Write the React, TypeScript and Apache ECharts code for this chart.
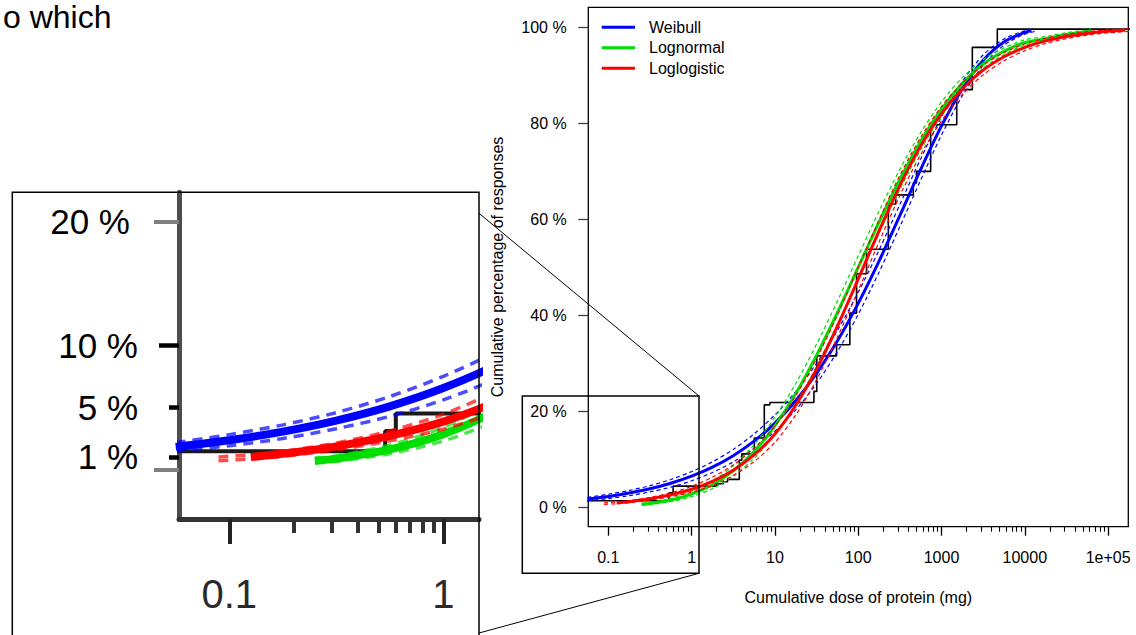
import React, { useEffect, useRef } from "react";
import * as echarts from "echarts";

// ---------- data (dose in mg, cumulative % of responses) ----------
const xTickDoses = [0.1, 1, 10, 100, 1000, 10000, 100000];
const xTickLabels = ["0.1", "1", "10", "100", "1000", "10000", "1e+05"];
const yTickValues = [0, 20, 40, 60, 80, 100];
const insetXTickDoses = [0.1, 1];
const insetXTickLabels = ["0.1", "1"];
const insetYLabelValues = [1, 5, 10];
const insetYTopLabel = [20];
const legendNames = ["Weibull", "Lognormal", "Loglogistic"];

const ecdf = [
  [0.03, 1.45], [0.535, 3.1], [0.6, 4.5], [2.0, 5.0], [2.4, 5.4], [2.7, 5.9],
  [3.74, 9.9], [4.0, 11.2], [5.66, 14.5], [7.46, 21.4], [8.7, 21.9], [29.4, 24.2],
  [31.8, 31.6], [55, 33.9], [79.4, 40.5], [95.6, 48.7], [126, 53.8], [230, 63.2],
  [282, 65.1], [458, 67.6], [501, 70.0], [741, 79.7], [1524, 87.0], [2345, 95.8],
  [4677, 99.6], [250000, 99.6],
];

const weibull = [
  [0.0562, 1.81], [0.1, 2.35], [0.178, 3.04], [0.316, 3.93], [0.562, 5.08], [1, 6.56],
  [1.78, 8.44], [3.16, 10.83], [5.62, 13.85], [10, 17.61], [17.8, 22.27], [31.6, 27.94],
  [56.2, 34.68], [100, 42.52], [178, 51.32], [316, 60.78], [562, 70.39], [1000, 79.45],
  [1780, 87.22], [3160, 93.11], [5620, 96.91], [10000, 98.91], [12000, 99.27],
];
const weibullUpper = [
  [0.0562, 2.16], [0.1, 2.8], [0.178, 3.59], [0.316, 4.58], [0.562, 5.88], [1, 7.51],
  [1.78, 9.54], [3.16, 12.13], [5.62, 15.35], [10, 19.31], [17.8, 24.17], [31.6, 30.04],
  [56.2, 36.88], [100, 44.82], [178, 53.62], [316, 63.08], [562, 72.59], [1000, 81.35],
  [1780, 88.72], [3160, 94.21], [5620, 97.56], [10000, 99.26], [12000, 99.5],
];
const weibullLower = [
  [0.0562, 1.46], [0.1, 1.9], [0.178, 2.49], [0.316, 3.28], [0.562, 4.28], [1, 5.61],
  [1.78, 7.34], [3.16, 9.53], [5.62, 12.35], [10, 15.91], [17.8, 20.37], [31.6, 25.84],
  [56.2, 32.48], [100, 40.22], [178, 49.02], [316, 58.48], [562, 68.19], [1000, 77.55],
  [1780, 85.72], [3160, 92.01], [5620, 96.26], [10000, 98.56], [14000, 99.2],
];

const lognormal = [
  [0.251, 0.7], [0.316, 0.86], [0.562, 1.61], [1, 2.84], [1.78, 4.78], [3.16, 7.66],
  [5.62, 11.69], [10, 17.05], [17.8, 23.75], [31.6, 31.7], [56.2, 40.59], [100, 50.0],
  [178, 59.41], [316, 68.3], [562, 76.25], [1000, 82.95], [1780, 88.31], [3160, 92.34],
  [5620, 95.0], [10000, 96.8], [17800, 97.6], [31600, 98.5], [56200, 99.1], [63100, 99.2],
];
const lognormalUpper = [
  [0.251, 0.9], [0.316, 1.08], [0.562, 1.96], [1, 3.39], [1.78, 5.58], [3.16, 8.71],
  [5.62, 13.09], [10, 18.85], [17.8, 25.85], [31.6, 34.0], [56.2, 42.99], [100, 52.4],
  [178, 61.71], [316, 70.4], [562, 78.05], [1000, 84.45], [1780, 89.51], [3160, 93.24],
  [5620, 95.7], [10000, 97.35], [17800, 98.05], [31600, 98.85], [56200, 99.35], [63100, 99.42],
];
const lognormalLower = [
  [0.251, 0.5], [0.316, 0.64], [0.562, 1.26], [1, 2.29], [1.78, 3.98], [3.16, 6.61],
  [5.62, 10.29], [10, 15.25], [17.8, 21.65], [31.6, 29.4], [56.2, 38.19], [100, 47.6],
  [178, 57.11], [316, 66.2], [562, 74.45], [1000, 81.45], [1780, 87.11], [3160, 91.44],
  [5620, 94.3], [10000, 96.25], [17800, 97.15], [31600, 98.15], [56200, 98.85], [63100, 98.98],
];

const loglogistic = [
  [0.126, 1.0], [0.178, 1.25], [0.316, 1.85], [0.562, 2.7], [1, 3.85], [1.78, 5.5],
  [3.16, 7.8], [5.62, 11.0], [10, 15.31], [17.8, 21.31], [31.6, 28.83], [56.2, 37.75],
  [100, 47.58], [178, 57.6], [316, 67.04], [562, 75.27], [1000, 82.0], [1780, 87.2],
  [3160, 91.07], [5620, 93.85], [10000, 95.8], [17800, 97.16], [31600, 98.08],
  [56200, 98.71], [100000, 99.14], [160000, 99.37],
];
const loglogisticUpper = [
  [0.089, 1.0], [0.126, 1.17], [0.178, 1.45], [0.316, 2.13], [0.562, 3.1], [1, 4.45],
  [1.78, 6.35], [3.16, 8.9], [5.62, 12.4], [10, 17.01], [17.8, 23.31], [31.6, 31.03],
  [56.2, 40.05], [100, 49.98], [178, 59.9], [316, 69.14], [562, 77.07], [1000, 83.5],
  [1780, 88.4], [3160, 92.07], [5620, 94.7], [10000, 96.5], [17800, 97.71], [31600, 98.53],
  [56200, 99.06], [100000, 99.44], [178000, 99.6],
];
const loglogisticLower = [
  [0.089, 0.7], [0.126, 0.83], [0.178, 1.05], [0.316, 1.57], [0.562, 2.3], [1, 3.25],
  [1.78, 4.65], [3.16, 6.7], [5.62, 9.6], [10, 13.61], [17.8, 19.31], [31.6, 26.63],
  [56.2, 35.45], [100, 45.18], [178, 55.3], [316, 64.94], [562, 73.47], [1000, 80.5],
  [1780, 86.0], [3160, 90.07], [5620, 93.0], [10000, 95.1], [17800, 96.61], [31600, 97.63],
  [56200, 98.36], [100000, 98.84], [178000, 99.1],
];

// ---------- layout / style ----------
const FONT = "'Liberation Sans', Arial, Helvetica, sans-serif";
const BLUE = "#0000FF";
const GREEN = "#00DD00";
const RED = "#FF0000";

const lg = (d: number) => Math.log10(d);
const toXY = (pairs: number[][]) => pairs.map(([d, p]) => [lg(d), p]);

// main plot axis extents (log10 dose, %)
const X_MIN = -1.24;
const X_MAX = 5.2425;
const Y_MIN = -3.954;
const Y_MAX = 104.14;
// inset axis extents
const IX_MIN = -1.235;
const IX_MAX = 0.1668;
const IY_MIN = -4.0145;
const IY_MAX = 22.375;

const majorL = xTickDoses.map(lg);
const insetMajorL = insetXTickDoses.map(lg);
// minor log ticks (2..9 in each decade) only between the first and last labelled decade
function minorTicks(lo: number, hi: number) {
  const out: number[] = [];
  const first = majorL[0];
  const last = majorL[majorL.length - 1];
  for (let e = Math.round(first); e < Math.round(last); e++) {
    for (let k = 2; k <= 9; k++) {
      const v = e + Math.log10(k);
      if (v > lo && v < hi) out.push(v);
    }
  }
  return out;
}
const fmtFrom = (vals: number[], labels: string[]) => (v: number) => {
  const i = vals.findIndex((m) => Math.abs(m - v) < 1e-6);
  return i >= 0 ? labels[i] : "";
};

function line(
  name: string,
  pairs: number[][],
  color: string,
  width: number,
  dashed: number[] | null,
  xi: number,
  yi: number,
  opacity = 1,
  step = false
): any {
  return {
    type: "line",
    name,
    xAxisIndex: xi,
    yAxisIndex: yi,
    data: toXY(pairs),
    symbol: "none",
    showSymbol: false,
    smooth: step ? false : 0.3,
    step: step ? "end" : false,
    clip: true,
    silent: true,
    lineStyle: {
      color,
      width,
      type: dashed ? dashed : "solid",
      opacity,
      cap: "butt",
    },
    itemStyle: { color },
    emphasis: { disabled: true },
  };
}

function buildSeries(xi: number, yi: number, big: boolean, suffix: string) {
  const dash = big ? [10, 7] : [4, 3];
  const dw = big ? 3.5 : 1.2;
  const sw = big ? 8 : 3;
  const dop = big ? 0.7 : 1;
  return [
    line("ECDF" + suffix, ecdf, big ? "#1a1a1a" : "#000", big ? 4 : 1.6, null, xi, yi, 1, true),
    line("Weibull lo" + suffix, weibullLower, BLUE, dw, dash, xi, yi, dop),
    line("Weibull hi" + suffix, weibullUpper, BLUE, dw, dash, xi, yi, dop),
    line(legendNames[0] + suffix, weibull, BLUE, sw, null, xi, yi),
    line("Lognormal lo" + suffix, lognormalLower, GREEN, dw, dash, xi, yi, dop),
    line("Lognormal hi" + suffix, lognormalUpper, GREEN, dw, dash, xi, yi, dop),
    line(legendNames[1] + suffix, lognormal, GREEN, sw, null, xi, yi),
    line("Loglogistic lo" + suffix, loglogisticLower, RED, dw, dash, xi, yi, dop),
    line("Loglogistic hi" + suffix, loglogisticUpper, RED, dw, dash, xi, yi, dop),
    line(legendNames[2] + suffix, loglogistic, RED, sw, null, xi, yi),
  ];
}

const hiddenAxisParts = {
  splitLine: { show: false },
  minorTick: { show: false },
  minorSplitLine: { show: false },
};

export default function App() {
  const ref = useRef<HTMLDivElement>(null);
  useEffect(() => {
    if (!ref.current) return;
    const chart = echarts.init(ref.current, undefined, { renderer: "svg" });
    const option: any = {
      animation: false,
      backgroundColor: "#ffffff",
      textStyle: { fontFamily: FONT },
      legend: {
        data: legendNames,
        orient: "vertical",
        left: 601.7,
        top: 19.3,
        itemWidth: 33.3,
        itemHeight: 16,
        itemGap: 4.5,
        padding: 0,
        selectedMode: false,
        icon: "path://M0,0 H33 V3 H0 Z",
        itemStyle: { borderWidth: 0 },
        textStyle: { fontSize: 16, color: "#000", fontFamily: FONT, padding: [0, 0, 0, 9] },
      },
      grid: [
        {
          left: 588.3,
          top: 7.3,
          width: 540,
          height: 519.4,
          show: true,
          borderColor: "#000",
          borderWidth: 1.3,
          backgroundColor: "transparent",
          containLabel: false,
          outerBoundsMode: "none",
        },
        {
          left: 179,
          top: 192.3,
          width: 300,
          height: 326.7,
          show: false,
          containLabel: false,
          outerBoundsMode: "none",
        },
      ],
      xAxis: [
        {
          gridIndex: 0,
          type: "value",
          position: "bottom",
          min: X_MIN,
          max: X_MAX,
          axisLine: { show: false, onZero: false },
          axisTick: { show: true, customValues: majorL, length: 9, lineStyle: { color: "#000", width: 1.3 } },
          axisLabel: {
            show: true,
            customValues: majorL,
            formatter: fmtFrom(majorL, xTickLabels),
            margin: 22.5,
            fontSize: 16,
            color: "#000",
            fontFamily: FONT,
          },
          ...hiddenAxisParts,
        },
        {
          gridIndex: 0,
          type: "value",
          position: "bottom",
          min: X_MIN,
          max: X_MAX,
          axisLine: { show: false, onZero: false },
          axisTick: { show: true, customValues: minorTicks(X_MIN, X_MAX), length: 5, lineStyle: { color: "#000", width: 1.1 } },
          axisLabel: { show: false },
          ...hiddenAxisParts,
        },
        {
          gridIndex: 1,
          type: "value",
          position: "bottom",
          min: IX_MIN,
          max: IX_MAX,
          axisLine: { show: true, onZero: false, lineStyle: { color: "#333", width: 5 } },
          axisTick: { show: true, customValues: insetMajorL, length: 25, lineStyle: { color: "#222", width: 4 } },
          axisLabel: {
            show: true,
            customValues: insetMajorL,
            formatter: fmtFrom(insetMajorL, insetXTickLabels),
            margin: 55,
            fontSize: 40,
            color: "#2a2a2a",
            fontFamily: FONT,
          },
          ...hiddenAxisParts,
        },
        {
          gridIndex: 1,
          type: "value",
          position: "bottom",
          min: IX_MIN,
          max: IX_MAX,
          axisLine: { show: false, onZero: false },
          axisTick: { show: true, customValues: minorTicks(IX_MIN, IX_MAX), length: 14, lineStyle: { color: "#333", width: 4 } },
          axisLabel: { show: false },
          ...hiddenAxisParts,
        },
      ],
      yAxis: [
        {
          gridIndex: 0,
          type: "value",
          position: "left",
          min: Y_MIN,
          max: Y_MAX,
          axisLine: { show: false, onZero: false },
          axisTick: { show: true, customValues: yTickValues, length: 10, lineStyle: { color: "#333", width: 1.2 } },
          axisLabel: {
            show: true,
            customValues: yTickValues,
            formatter: (v: number) => `${v} %`,
            margin: 21.6,
            fontSize: 16,
            color: "#000",
            fontFamily: FONT,
          },
          ...hiddenAxisParts,
        },
        {
          gridIndex: 1,
          type: "value",
          position: "left",
          min: IY_MIN,
          max: IY_MAX,
          axisLine: { show: true, onZero: false, lineStyle: { color: "#4d4d4d", width: 5 } },
          axisTick: { show: true, customValues: [1, 5], length: 10, lineStyle: { color: "#000", width: 4.5 } },
          axisLabel: {
            show: true,
            customValues: insetYLabelValues,
            formatter: (v: number) => `${v} %`,
            margin: 41,
            fontSize: 35,
            color: "#000",
            fontFamily: FONT,
          },
          ...hiddenAxisParts,
        },
        {
          gridIndex: 1,
          type: "value",
          position: "left",
          min: IY_MIN,
          max: IY_MAX,
          axisLine: { show: false, onZero: false },
          axisTick: { show: true, customValues: [10], length: 20, lineStyle: { color: "#000", width: 4.5 } },
          axisLabel: { show: false },
          ...hiddenAxisParts,
        },
        {
          gridIndex: 1,
          type: "value",
          position: "left",
          min: IY_MIN,
          max: IY_MAX,
          axisLine: { show: false, onZero: false },
          axisTick: { show: true, customValues: [0, 20], length: 25, lineStyle: { color: "#808080", width: 4 } },
          axisLabel: {
            show: true,
            customValues: insetYTopLabel,
            formatter: (v: number) => `${v} %`,
            margin: 49,
            fontSize: 35,
            color: "#000",
            fontFamily: FONT,
          },
          ...hiddenAxisParts,
        },
      ],
      series: [...buildSeries(0, 0, false, ""), ...buildSeries(2, 1, true, " (zoom)")],
      graphic: [
        {
          type: "text",
          x: 3,
          y: 16.5,
          z: 100,
          style: { text: "o which", font: `32px ${FONT}`, fill: "#000", textAlign: "left", textVerticalAlign: "middle" },
        },
        {
          type: "text",
          x: 497,
          y: 267,
          rotation: Math.PI / 2,
          z: 100,
          style: {
            text: "Cumulative percentage of responses",
            font: `16px ${FONT}`,
            fill: "#000",
            textAlign: "center",
            textVerticalAlign: "middle",
          },
        },
        {
          type: "text",
          x: 858.3,
          y: 597.7,
          z: 100,
          style: {
            text: "Cumulative dose of protein (mg)",
            font: `16px ${FONT}`,
            fill: "#000",
            textAlign: "center",
            textVerticalAlign: "middle",
          },
        },
        {
          type: "rect",
          z: 100,
          shape: { x: 522.3, y: 396, width: 176.7, height: 177.3 },
          style: { fill: "none", stroke: "#000", lineWidth: 1.5 },
        },
        {
          type: "rect",
          z: 100,
          shape: { x: 12.3, y: 192.3, width: 466.7, height: 520 },
          style: { fill: "none", stroke: "#000", lineWidth: 1.5 },
        },
        {
          type: "line",
          z: 100,
          shape: { x1: 479, y1: 213.3, x2: 699, y2: 396 },
          style: { stroke: "#000", lineWidth: 1 },
        },
        {
          type: "line",
          z: 100,
          shape: { x1: 479, y1: 633, x2: 699, y2: 573.3 },
          style: { stroke: "#000", lineWidth: 1 },
        },
      ],
    };
    chart.setOption(option);
    return () => chart.dispose();
  }, []);
  return (
    <div
      ref={ref}
      style={{ position: "absolute", left: 0, top: 0, width: 1136, height: 635, background: "#fff" }}
    />
  );
}
